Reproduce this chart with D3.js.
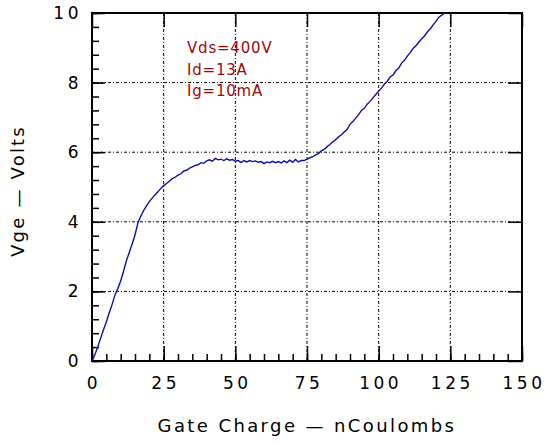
<!DOCTYPE html>
<html>
<head>
<meta charset="utf-8">
<script src="https://cdn.jsdelivr.net/npm/d3@7"></script>
<style>
  body { margin: 0; background: #fff; }
  text { font-family: "DejaVu Sans", sans-serif; }
</style>
</head>
<body>
<div id="chart"></div>
<script>
// gate charge, nC (one sample per nC)
var charge = d3.range(0, 124);
// Vge, volts
var vge = [
  0.00, 0.18, 0.40, 0.65, 0.90, 1.12, 1.38, 1.62, 1.90, 2.08,
  2.30, 2.58, 2.88, 3.12, 3.36, 3.62, 3.96, 4.16, 4.32, 4.46,
  4.58, 4.68, 4.78, 4.86, 4.96, 5.04, 5.10, 5.17, 5.24, 5.28,
  5.34, 5.38, 5.46, 5.48, 5.54, 5.58, 5.62, 5.64, 5.70, 5.68,
  5.75, 5.78, 5.74, 5.82, 5.78, 5.80, 5.76, 5.81, 5.77, 5.79,
  5.74, 5.76, 5.70, 5.76, 5.72, 5.76, 5.73, 5.75, 5.71, 5.73,
  5.67, 5.72, 5.70, 5.74, 5.70, 5.73, 5.69, 5.75, 5.70, 5.77,
  5.71, 5.79, 5.72, 5.76, 5.76, 5.80, 5.84, 5.87, 5.92, 5.96,
  6.04, 6.08, 6.16, 6.22, 6.30, 6.36, 6.44, 6.50, 6.58, 6.66,
  6.80, 6.88, 6.98, 7.08, 7.20, 7.26, 7.38, 7.46, 7.56, 7.66,
  7.76, 7.84, 7.96, 8.04, 8.16, 8.22, 8.34, 8.42, 8.56, 8.64,
  8.76, 8.86, 8.98, 9.06, 9.16, 9.26, 9.34, 9.46, 9.54, 9.66,
  9.76, 9.88, 9.94, 10.0
];
var xTicks = [0, 25, 50, 75, 100, 125, 150];
var yTicks = [0, 2, 4, 6, 8, 10];
var notes = ["Vds=400V", "Id=13A", "Ig=10mA"];

var width = 544, height = 445;
var margin = { top: 13, right: 22, bottom: 84, left: 92 };
var plotW = width - margin.left - margin.right;
var plotH = height - margin.top - margin.bottom;

var svg = d3.select("#chart")
    .append("svg")
    .attr("width", width)
    .attr("height", height)
    .append("g")
    .attr("transform", "translate(" + margin.left + "," + margin.top + ")");

var x = d3.scaleLinear().domain([0, 150]).range([0, plotW]);
var y = d3.scaleLinear().domain([0, 10]).range([plotH, 0]);

// dotted grid
var grid = svg.append("g")
    .attr("stroke", "#000")
    .attr("stroke-width", 1)
    .attr("stroke-dasharray", "3,2,1,2");
grid.selectAll("line.gx")
    .data(xTicks.slice(1, -1))
    .enter().append("line")
    .attr("x1", d => x(d)).attr("x2", d => x(d))
    .attr("y1", 0).attr("y2", plotH);
grid.selectAll("line.gy")
    .data(yTicks.slice(1, -1))
    .enter().append("line")
    .attr("x1", 0).attr("x2", plotW)
    .attr("y1", d => y(d)).attr("y2", d => y(d));

// inward ticks
function tickAxis(axis, scale, ticks, size) {
    return axis(scale).tickValues(ticks).tickSizeInner(-size).tickSizeOuter(0).tickFormat("");
}
var minorX = d3.range(0, 151, 5);
var minorY = d3.range(0, 10.01, 0.4);

svg.append("g").attr("transform", "translate(0," + plotH + ")")
    .call(tickAxis(d3.axisBottom, x, minorX, 7));
svg.append("g").attr("transform", "translate(0," + plotH + ")")
    .call(tickAxis(d3.axisBottom, x, xTicks, 15));
svg.append("g").call(tickAxis(d3.axisTop, x, xTicks, 14));
svg.append("g").call(tickAxis(d3.axisLeft, y, minorY, 7));
svg.append("g").call(tickAxis(d3.axisLeft, y, yTicks, 13));
svg.append("g").attr("transform", "translate(" + plotW + ",0)")
    .call(tickAxis(d3.axisRight, y, yTicks, 14));
svg.selectAll(".domain").remove();
svg.selectAll(".tick line").attr("stroke", "#000").attr("stroke-width", 1.5);

// frame
svg.append("rect")
    .attr("width", plotW).attr("height", plotH)
    .attr("fill", "none").attr("stroke", "#000").attr("stroke-width", 2);

// tick labels
svg.selectAll("text.xl")
    .data(xTicks)
    .enter().append("text")
    .attr("x", d => x(d) + 2)
    .attr("y", plotH + 28)
    .attr("text-anchor", "middle")
    .attr("font-size", 17)
    .attr("letter-spacing", 3.5)
    .text(d => d);
svg.selectAll("text.yl")
    .data(yTicks)
    .enter().append("text")
    .attr("x", -10)
    .attr("y", d => y(d) + 6)
    .attr("text-anchor", "end")
    .attr("font-size", 17)
    .attr("letter-spacing", 3.5)
    .text(d => d);

// axis titles
svg.append("text")
    .attr("x", plotW / 2)
    .attr("y", plotH + 71)
    .attr("text-anchor", "middle")
    .attr("font-size", 18)
    .attr("letter-spacing", 2.4)
    .text("Gate Charge \u2014 nCoulombs");
svg.append("text")
    .attr("transform", "translate(" + (-68) + "," + (plotH / 2 + 4) + ") rotate(-90)")
    .attr("text-anchor", "middle")
    .attr("font-size", 18)
    .attr("letter-spacing", 2.2)
    .text("Vge \u2014 Volts");

// curve
var line = d3.line()
    .x((d, i) => x(charge[i]))
    .y(d => y(d));
svg.append("path")
    .datum(vge)
    .attr("fill", "none")
    .attr("stroke", "#1010a0")
    .attr("stroke-width", 1.4)
    .attr("d", line);

// test conditions
svg.selectAll("text.note")
    .data(notes)
    .enter().append("text")
    .attr("x", 95)
    .attr("y", (d, i) => 40 + i * 21.5)
    .attr("fill", "#9a0a0a")
    .attr("font-size", 15)
    .attr("letter-spacing", 0.8)
    .text(d => d);
</script>
</body>
</html>
